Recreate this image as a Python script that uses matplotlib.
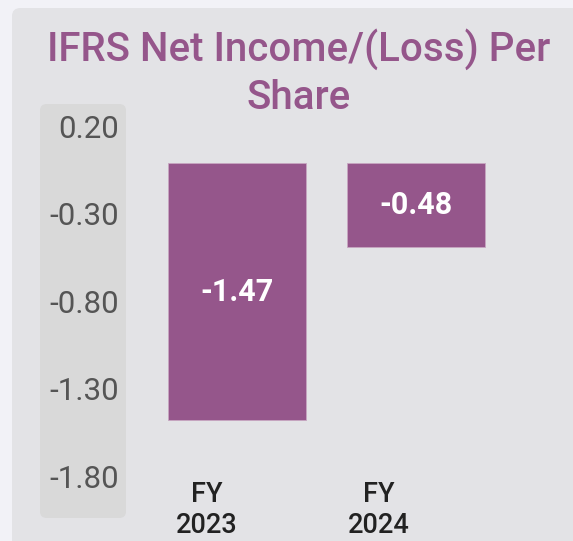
import matplotlib.pyplot as plt
import matplotlib.transforms as mtransforms
from matplotlib.patches import FancyBboxPatch

plt.rcParams['font.family'] = ['Roboto', 'DejaVu Sans']

# data
categories = ["FY\n2023", "FY\n2024"]
values = [-1.47, -0.48]
yticks = [0.20, -0.30, -0.80, -1.30, -1.80]

purple = "#95568b"
W, H = 573, 541

fig = plt.figure(figsize=(W / 100, H / 100), dpi=100)
fig.patch.set_facecolor("#f2f2f7")

# card background
card = FancyBboxPatch((12 / W, -0.05), 1.2, 1.05 - 8 / H,
                      boxstyle="round,pad=0,rounding_size=0.015",
                      transform=fig.transFigure, facecolor="#e3e3e6",
                      edgecolor="none", zorder=-2)
fig.patches.append(card)

# y-axis band
band = FancyBboxPatch((40 / W, 1 - 518 / H), 86 / W, 414 / H,
                      boxstyle="round,pad=0,rounding_size=0.012",
                      transform=fig.transFigure, facecolor="#d9d9d9",
                      edgecolor="none", zorder=-1)
fig.patches.append(band)

ax = fig.add_axes([130 / W, 1 - 518 / H, 1 - 130 / W, 415 / H])
ax.set_zorder(2)
ax.set_facecolor("none")
x = list(range(len(values)))
ax.bar(x, values, width=0.771, color=purple, edgecolor="#c7a6c1", linewidth=0.6, zorder=2)
ax.set_xlim(-0.598, 1.877)
ax.set_ylim(-2.028, 0.346)

for xi, v in zip(x, values):
    ax.text(xi, v / 2, f"{v:.2f}", ha="center", va="center", color="white",
            fontsize=22, fontweight="bold", zorder=3)

ax.set_yticks(yticks)
ax.set_yticklabels([f"{t:.2f}" for t in yticks])
ax.tick_params(axis="y", length=0, pad=8, labelsize=22.5, labelcolor="#555555")
# nudge tick labels up a little
shift = mtransforms.ScaledTranslation(0, 2 / 100, fig.dpi_scale_trans)
for lbl in ax.get_yticklabels():
    lbl.set_transform(lbl.get_transform() + shift)
ax.set_xticks([])
for s in ax.spines.values():
    s.set_visible(False)

# category labels (sit a bit left of the bars)
label_offsets = [-0.168, -0.207]
for xi, off, lab in zip(x, label_offsets, categories):
    ax.text(xi + off, -1.815, lab, ha="center", va="top", color="#222222",
            fontsize=19.5, fontweight="medium", linespacing=1.22)

fig.text(299 / W, 1 - 28 / H, "IFRS Net Income/(Loss) Per\nShare", ha="center", va="top",
         color=purple, fontsize=29, fontweight="medium", linespacing=1.3)

fig.savefig("out.png", dpi=100, facecolor=fig.get_facecolor())
